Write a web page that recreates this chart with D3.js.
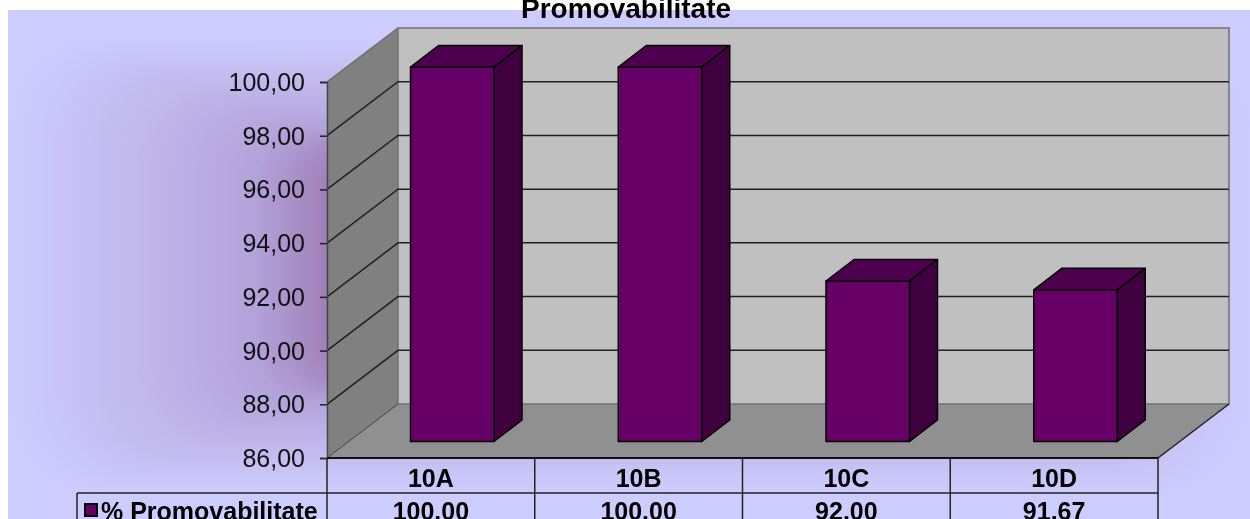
<!DOCTYPE html>
<html><head><meta charset="utf-8">
<script src="https://cdn.jsdelivr.net/npm/d3@7"></script>
<style>html,body{margin:0;padding:0;background:#fff;overflow:hidden}svg{display:block;filter:blur(0.45px)}text{font-family:"Liberation Sans",Arial,sans-serif}</style>
</head><body><svg id="c" width="1250" height="519"></svg>
<script>
const categories = ["10A","10B","10C","10D"];
const values = [100.00,100.00,92.00,91.67];
const seriesName = "% Promovabilitate";
const titleText = "Promovabilitate";
const yTicks = [86,88,90,92,94,96,98,100];

const svg = d3.select("#c");

// flat frame colour, then a box-shaped gradient of nested rectangles towards the centre
svg.append("rect").attr("x",8).attr("y",10).attr("width",1242).attr("height",509).attr("fill","#ccccff");
const L = 8, T = 38, R = 1250, B = 492;
const shade = d3.scaleLinear()
  .domain([0,.1,.2,.3,.4,.5,.6,1])
  .range(["#ccccff","#c7c3f5","#c1b8eb","#baaee3","#b2a2d9","#a283ba","#905f9f","#660066"]);
const steps = 200;
svg.append("g").selectAll("rect").data(d3.range(steps)).join("rect")
  .attr("x",i=>L+(R-L)/2*i/steps)
  .attr("y",i=>T+(B-T)/2*i/steps)
  .attr("width",i=>(R-L)*(1-i/steps))
  .attr("height",i=>(B-T)*(1-i/steps))
  .attr("rx",i=>90*(1-i/steps))
  .attr("fill",i=>shade(i/steps));

svg.append("text").attr("x",626).attr("y",18).attr("text-anchor","middle")
  .attr("font-weight","bold").attr("font-size",28).attr("fill","#000").text(titleText);

const y = d3.scaleLinear().domain([86,100]).range([458,82]);
const yBar = d3.scaleLinear().domain([86,100]).range([441.5,67]);
const x = d3.scaleBand().domain(categories).range([327,1158]);
const dx = 71, dy = -54, bdx = 28, bdy = -21.5, barOffset = 84, barW = 83.5;
const poly = pts => pts.map(p=>p.join(",")).join(" ");

// side wall, back wall, floor
svg.append("polygon").attr("points",poly([[327,y(100)],[327+dx,y(100)+dy],[327+dx,y(86)+dy],[327,y(86)]])).attr("fill","#808080");
svg.append("rect").attr("x",327+dx).attr("y",y(100)+dy).attr("width",1158-327).attr("height",y(86)-y(100)).attr("fill","#c0c0c0");
svg.append("polygon").attr("points",poly([[327,y(86)],[327+dx,y(86)+dy],[1158+dx,y(86)+dy],[1158,y(86)]])).attr("fill","#909090");

// walls' outlines
svg.append("path").attr("d",`M327,${y(100)}L${327+dx},${y(100)+dy}H${1158+dx}V${y(86)+dy}H${327+dx}V${y(100)+dy}`)
  .attr("fill","none").attr("stroke","#707070").attr("stroke-width",1.5);

// gridlines
const grid = svg.append("g");
yTicks.forEach(t=>{
  if(t>86 && t<100) grid.append("path").attr("d",`M327,${y(t)}L${327+dx},${y(t)+dy}H${1158+dx}`)
    .attr("fill","none").attr("stroke","#202020").attr("stroke-width",1.5);
});
grid.append("path").attr("d",`M327,${y(100)}L${327+dx},${y(100)+dy}`).attr("fill","none").attr("stroke","#707070").attr("stroke-width",1);
grid.append("path").attr("d",`M${327},${y(86)}L${327+dx},${y(86)+dy}`).attr("fill","none").attr("stroke","#404040").attr("stroke-width",1);
grid.append("path").attr("d",`M${1158+dx},${y(86)+dy}L1158,${y(86)}`).attr("fill","none").attr("stroke","#202020").attr("stroke-width",1.5);

// axis
const axis = d3.axisLeft(y).tickValues(yTicks).tickSize(7).tickPadding(15)
  .tickFormat(v=>d3.format(".2f")(v).replace(".",","));
const ag = svg.append("g").attr("transform","translate(327,0)").call(axis);
ag.selectAll("text").attr("font-size",25).attr("fill","#111").attr("dy","0.34em").style("font-family",'"Liberation Sans",Arial,sans-serif');
ag.selectAll("line").attr("stroke","#222").attr("stroke-width",1.5);
ag.select(".domain").attr("stroke","#444").attr("stroke-width",1.5);

// bars
const bars = svg.append("g").selectAll("g").data(categories.map((c,i)=>({c,v:values[i]}))).join("g");
bars.each(function(d){
  const g = d3.select(this), x0 = x(d.c)+barOffset-.5, x1 = x0+barW, t = yBar(d.v), b = yBar(86);
  const st = s=>s.attr("stroke","#000").attr("stroke-width",1.5).attr("stroke-linejoin","round");
  g.append("polygon").attr("points",poly([[x0,t],[x0+bdx,t+bdy],[x1+bdx,t+bdy],[x1,t]])).attr("fill","#4d004d").call(st);
  g.append("polygon").attr("points",poly([[x1,t],[x1+bdx,t+bdy],[x1+bdx,b+bdy],[x1,b]])).attr("fill","#400040").call(st);
  g.append("rect").attr("x",x0).attr("y",t).attr("width",barW).attr("height",b-t).attr("fill","#660066").call(st);
});

// data table
const tbl = svg.append("g").attr("stroke","#222").attr("stroke-width",1.5).attr("fill","none");
const rowTop = 493;
tbl.append("path").attr("d",`M327,${y(86)}H1158`).attr("stroke","#111").attr("stroke-width",2);
tbl.append("path").attr("d",`M77,${rowTop}H1158`);
tbl.append("path").attr("d",`M77,${rowTop}V519`);
[...categories.map(c=>x(c)),1158].forEach(px=>{
  tbl.append("path").attr("d",`M${px},${y(86)}V519`);
});
const cell = svg.append("g").attr("text-anchor","middle").attr("font-weight","bold").attr("font-size",25).attr("fill","#000");
categories.forEach((c,i)=>{
  const cx = x(c)+x.bandwidth()/2;
  cell.append("text").attr("x",cx).attr("y",487).text(c);
  cell.append("text").attr("x",cx).attr("y",520).text(d3.format(".2f")(values[i]));
});
svg.append("rect").attr("x",85).attr("y",504).attr("width",12).attr("height",12).attr("fill","#660066").attr("stroke","#000").attr("stroke-width",2);
svg.append("text").attr("x",101).attr("y",520).attr("font-weight","bold").attr("font-size",25).attr("fill","#000").text(seriesName);
</script></body></html>
